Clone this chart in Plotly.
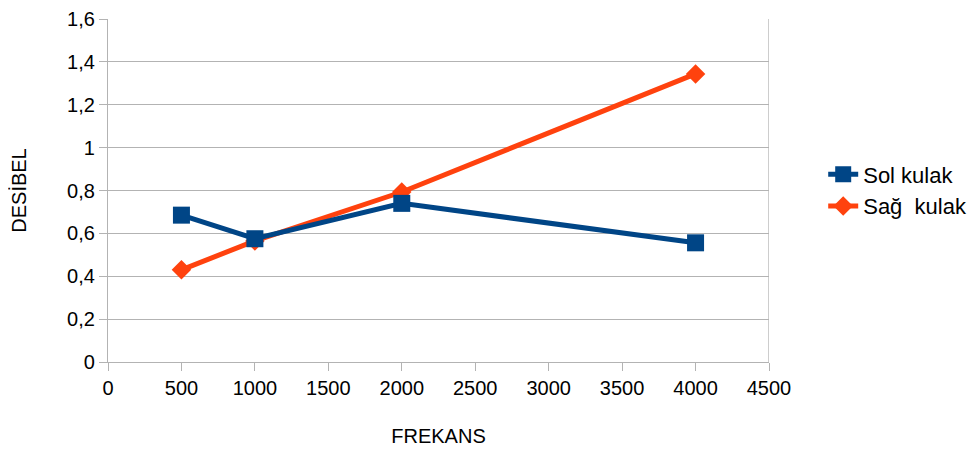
import plotly.graph_objects as go

frekans = [500, 1000, 2000, 4000]
sol_kulak = [0.685, 0.575, 0.74, 0.556]
sag_kulak = [0.43, 0.565, 0.793, 1.344]

x_ticks = [0, 500, 1000, 1500, 2000, 2500, 3000, 3500, 4000, 4500]
y_ticks = [0, 0.2, 0.4, 0.6, 0.8, 1.0, 1.2, 1.4, 1.6]
y_labels = ["0", "0,2", "0,4", "0,6", "0,8", "1", "1,2", "1,4", "1,6"]

fig = go.Figure()
fig.add_trace(go.Scatter(
    x=frekans, y=sag_kulak, name="Sağ\u00a0 kulak", mode="lines+markers",
    line=dict(color="#ff420e", width=5),
    marker=dict(symbol="diamond", size=15, color="#ff420e"),
    legendrank=2,
))
fig.add_trace(go.Scatter(
    x=frekans, y=sol_kulak, name="Sol kulak", mode="lines+markers",
    line=dict(color="#004586", width=5),
    marker=dict(symbol="square", size=17, color="#004586"),
    legendrank=1,
))

font = "Liberation Sans, Arial, sans-serif"
fig.update_layout(
    width=978, height=450,
    margin=dict(l=100, r=217, t=11, b=96, autoexpand=False),
    plot_bgcolor="white", paper_bgcolor="white",
    font=dict(family=font, color="#000000", size=20),
    separators=", ",
    showlegend=True,
    legend=dict(x=1.082, y=0.50, xanchor="left", yanchor="middle",
                font=dict(size=22), itemwidth=30, tracegroupgap=0,
                traceorder="normal",
                bgcolor="rgba(0,0,0,0)"),
    xaxis=dict(
        range=[0, 4500], tickvals=x_ticks, ticktext=[str(v) for v in x_ticks],
        showgrid=False, zeroline=False,
        showline=True, linecolor="#b3b3b3", linewidth=1.3, mirror=False,
        ticks="outside", ticklen=8, tickcolor="#b3b3b3", tickwidth=1.3,
        tickfont=dict(size=20), ticklabeloverflow="allow",
        title=dict(text="FREKANS", font=dict(size=20), standoff=30),
    ),
    yaxis=dict(
        range=[0, 1.6], tickvals=y_ticks, ticktext=y_labels,
        showgrid=True, gridcolor="#b3b3b3", gridwidth=1.3, zeroline=False,
        showline=True, linecolor="#b3b3b3", linewidth=1.3,
        ticks="outside", ticklen=8, tickcolor="#b3b3b3", tickwidth=1.3,
        tickfont=dict(size=20), ticklabeloverflow="allow",
        title=dict(text="DESİBEL", font=dict(size=20), standoff=40),
    ),
)
# right border line at x=4500
fig.add_shape(type="line", xref="x", yref="paper", x0=4500, x1=4500, y0=0, y1=1,
              line=dict(color="#b3b3b3", width=1.3), layer="below")

fig.write_html("out.html")
